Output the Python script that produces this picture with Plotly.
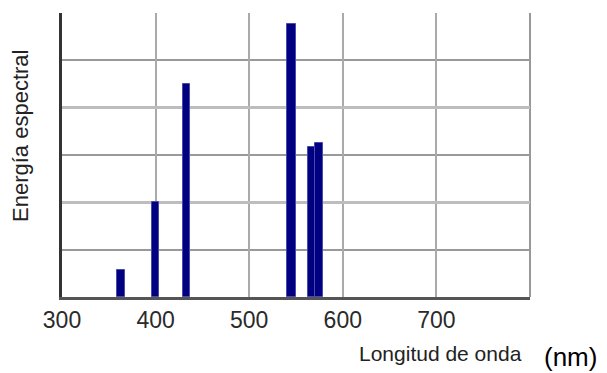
import plotly.graph_objects as go

# Emission lines of the spectrum (wavelength in nm, relative spectral energy)
wavelengths_nm = [363, 400, 433, 545, 567, 575]
energy = [0.58, 2.0, 4.5, 5.77, 3.17, 3.25]
x_tick_values = [300, 400, 500, 600, 700]
x_tick_labels = ["300", "400", "500", "600", "700"]

bar_widths = [8.5, 8, 8, 10, 7.5, 8.5]

fig = go.Figure()
fig.add_trace(go.Bar(
    x=wavelengths_nm,
    y=energy,
    width=bar_widths,
    marker=dict(color="#000080", line=dict(color="#4a4aa8", width=1)),
    showlegend=False,
))

fig.update_layout(
    width=607,
    height=373,
    margin=dict(l=62, r=77, t=13, b=76),
    paper_bgcolor="white",
    plot_bgcolor="white",
    font=dict(family="Liberation Sans, Arial, sans-serif", color="#333333"),
    xaxis=dict(
        range=[300, 800],
        tickvals=x_tick_values,
        ticktext=x_tick_labels,
        tickfont=dict(size=23, color="#2a2a2a"),
        showgrid=True,
        gridcolor="#aaaaaa",
        gridwidth=2,
        showline=True,
        linecolor="#555555",
        linewidth=3,
        ticks="",
        zeroline=False,
        fixedrange=True,
    ),
    yaxis=dict(
        range=[0, 6],
        dtick=2,
        showticklabels=False,
        showgrid=True,
        gridcolor="#bdbdbd",
        gridwidth=3,
        minor=dict(dtick=1, showgrid=True, gridcolor="#999999", gridwidth=2),
        showline=True,
        linecolor="#333333",
        linewidth=3,
        ticks="",
        zeroline=False,
        fixedrange=True,
    ),
    bargap=0,
)

# Right-hand frame edge of the plotting area
fig.add_shape(type="line", xref="paper", yref="paper", x0=1, x1=1, y0=0, y1=1,
              line=dict(color="#999999", width=2), layer="below")

fig.add_annotation(text="Longitud de onda", xref="paper", yref="paper",
                   x=0.808, y=-0.2, xanchor="center", yanchor="middle",
                   showarrow=False, font=dict(size=21, color="#222222"))
fig.add_annotation(text="(nm)", xref="paper", yref="paper",
                   x=1.086, y=-0.21, xanchor="center", yanchor="middle",
                   showarrow=False,
                   font=dict(size=26, color="#000000",
                             family="Liberation Sans, Arial, sans-serif"))
fig.add_annotation(text="Energía espectral", xref="paper", yref="paper",
                   x=-0.0876, y=0.567, xanchor="center", yanchor="middle",
                   textangle=-90, showarrow=False,
                   font=dict(size=22, color="#222222"))

fig.write_html("out.html")
